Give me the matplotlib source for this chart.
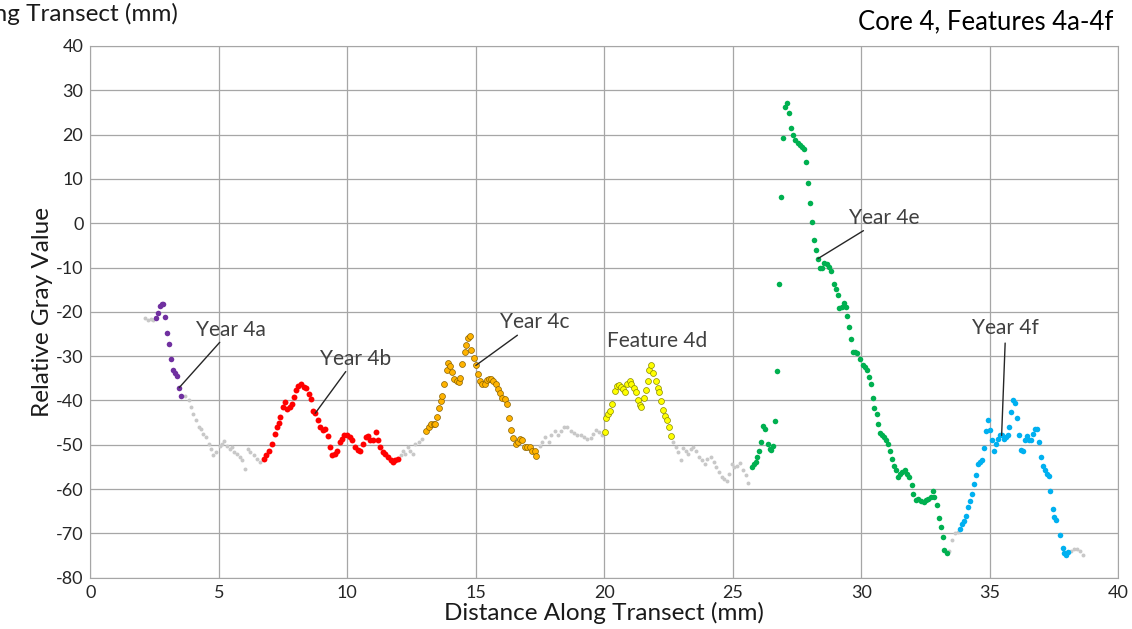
import matplotlib.pyplot as plt

plt.rcParams['font.family'] = ['Lato', 'DejaVu Sans']
plt.rcParams['axes.unicode_minus'] = False

# gray background trace (between the features)
gray_x = [2.14, 2.25, 2.35, 2.45,
          3.69, 3.82, 3.92, 4.01, 4.12, 4.21, 4.31, 4.40, 4.51, 4.60, 4.69, 4.79, 4.90, 5.03,
          5.12, 5.22, 5.31, 5.42, 5.51, 5.60, 5.70, 5.81, 5.90, 6.00, 6.12, 6.22, 6.35, 6.48, 6.61,
          12.07, 12.16, 12.26, 12.35, 12.45, 12.55, 12.65, 12.78, 12.91,
          17.49, 17.58, 17.71, 17.84, 17.94, 18.07, 18.20, 18.32, 18.43, 18.56, 18.69, 18.82,
          18.95, 19.08, 19.21, 19.34, 19.47, 19.57, 19.66, 19.79, 19.92,
          22.69, 22.78, 22.87, 22.97, 23.08, 23.17, 23.26, 23.36, 23.47, 23.57, 23.69, 23.82,
          23.91, 24.01, 24.14, 24.25, 24.34, 24.47, 24.56, 24.66, 24.77, 24.86, 24.95, 25.05,
          25.18, 25.29, 25.38, 25.51, 25.60,
          33.42, 33.53, 33.64, 33.75,
          38.16, 38.27, 38.40, 38.50, 38.62]
gray_y = [-21.4, -21.9, -21.6, -21.8,
          -38.9, -40.0, -41.5, -43.0, -44.4, -46.0, -46.4, -47.5, -48.3, -49.8, -50.9, -52.4, -51.7, -50.2,
          -49.8, -49.2, -50.2, -50.9, -50.5, -51.7, -52.0, -52.8, -53.5, -55.4, -50.9, -51.7, -52.4, -53.2, -53.9,
          -52.4, -51.3, -52.0, -50.5, -51.3, -52.0, -49.8, -49.4, -48.6,
          -50.2, -49.4, -48.3, -49.4, -47.9, -46.9, -47.9, -46.8, -46.0, -45.9, -46.9, -47.4,
          -47.7, -47.9, -48.3, -48.6, -48.4, -47.5, -46.6, -47.1, -47.9,
          -49.4, -50.5, -51.7, -53.5, -50.7, -51.3, -52.0, -50.9, -50.5, -51.3, -52.8, -53.5,
          -54.4, -53.2, -52.8, -53.9, -55.0, -56.2, -57.3, -57.7, -58.1, -56.6, -54.3, -55.0,
          -54.7, -54.1, -55.6, -56.9, -58.7,
          -73.9, -71.5, -70.0, -69.7,
          -73.9, -73.5, -73.5, -73.9, -74.8]

# Year 4a
a_x = [2.55, 2.62, 2.71, 2.77, 2.82, 2.92, 3.00, 3.07, 3.14, 3.21, 3.30, 3.39, 3.46, 3.53]
a_y = [-21.3, -20.2, -18.6, -18.2, -18.3, -21.2, -24.8, -27.2, -30.6, -33.1, -33.8, -34.5, -37.1, -38.9]

# Year 4b
b_x = [6.74, 6.85, 6.96, 7.07, 7.17, 7.26, 7.33, 7.39, 7.49, 7.58, 7.67, 7.75, 7.84, 7.94, 8.01,
       8.10, 8.19, 8.30, 8.40, 8.49, 8.58, 8.66, 8.75, 8.84, 8.95, 9.05, 9.14, 9.23, 9.31, 9.40,
       9.51, 9.60, 9.70, 9.79, 9.88, 9.99, 10.09, 10.20, 10.31, 10.40, 10.51, 10.61, 10.72, 10.81,
       10.90, 11.00, 11.10, 11.18, 11.29, 11.39, 11.48, 11.59, 11.68, 11.77, 11.87, 11.96]
b_y = [-53.2, -52.4, -51.3, -49.8, -47.5, -46.0, -45.1, -43.8, -41.5, -40.4, -41.9, -41.5, -40.8, -39.2, -37.7,
       -36.8, -36.4, -37.0, -37.1, -38.5, -39.6, -42.3, -42.9, -44.5, -46.0, -46.6, -46.4, -48.1, -50.5, -52.4,
       -52.0, -51.3, -49.4, -48.7, -47.9, -47.7, -48.3, -49.0, -50.5, -51.1, -51.4, -49.8, -48.3, -48.1,
       -48.9, -49.0, -47.1, -49.0, -50.5, -51.7, -52.0, -52.8, -53.5, -53.9, -53.5, -53.2]

# Year 4c
c_x = [13.08, 13.17, 13.26, 13.36, 13.43, 13.49, 13.56, 13.65, 13.70, 13.78, 13.86, 13.91, 13.99,
       14.08, 14.17, 14.25, 14.34, 14.40, 14.47, 14.56, 14.62, 14.70, 14.79, 14.83, 14.92, 15.00,
       15.08, 15.16, 15.25, 15.34, 15.42, 15.51, 15.60, 15.68, 15.77, 15.86, 15.94, 16.03, 16.12,
       16.20, 16.29, 16.38, 16.45, 16.55, 16.64, 16.71, 16.81, 16.90, 17.00, 17.10, 17.20, 17.29, 17.36]
c_y = [-46.9, -46.0, -45.3, -45.3, -45.4, -43.8, -41.7, -40.1, -38.9, -36.4, -33.1, -31.6, -32.3,
       -33.6, -35.1, -35.5, -35.9, -34.9, -31.7, -29.1, -27.4, -25.9, -25.5, -28.6, -30.4, -32.1,
       -34.0, -35.5, -36.4, -36.2, -35.3, -35.1, -35.1, -35.6, -36.4, -37.4, -38.3, -39.4, -39.6,
       -40.7, -43.9, -46.6, -48.4, -49.8, -49.4, -48.6, -49.0, -50.5, -50.5, -50.5, -51.3, -51.3, -52.6]

# Feature 4d
d_x = [20.01, 20.05, 20.14, 20.22, 20.31, 20.40, 20.48, 20.57, 20.64, 20.73, 20.81, 20.90, 20.99,
       21.05, 21.16, 21.23, 21.31, 21.39, 21.44, 21.55, 21.61, 21.70, 21.75, 21.83, 21.91, 22.00,
       22.07, 22.14, 22.22, 22.30, 22.36, 22.43, 22.52, 22.61]
d_y = [-47.1, -43.9, -43.0, -42.4, -40.7, -37.9, -36.8, -36.6, -37.0, -37.4, -38.1, -36.4, -35.6,
       -36.4, -37.1, -38.1, -40.0, -41.1, -41.5, -39.4, -37.6, -35.6, -33.2, -32.1, -33.8, -35.6,
       -37.1, -38.1, -40.1, -42.1, -43.6, -44.5, -46.0, -48.1]

# Year 4e
e_x = [25.76, 25.83, 25.89, 25.96, 26.02, 26.11, 26.19, 26.26, 26.35, 26.44, 26.50, 26.57, 26.63,
       26.71, 26.79, 26.87, 26.95, 27.02, 27.10, 27.18, 27.26, 27.34, 27.41, 27.52, 27.60, 27.69,
       27.78, 27.85, 27.93, 28.01, 28.08, 28.17, 28.23, 28.31, 28.39, 28.46, 28.56, 28.66, 28.75,
       28.84, 28.92, 29.01, 29.08, 29.15, 29.23, 29.31, 29.39, 29.46, 29.53, 29.61, 29.67, 29.75,
       29.85, 29.96, 30.05, 30.14, 30.22, 30.28, 30.37, 30.44, 30.50, 30.60, 30.66, 30.74, 30.82,
       30.89, 30.97, 31.05, 31.13, 31.21, 31.28, 31.36, 31.44, 31.52, 31.60, 31.70, 31.77, 31.86,
       31.96, 32.03, 32.12, 32.22, 32.32, 32.42, 32.51, 32.60, 32.71, 32.80, 32.84, 32.93, 33.01,
       33.10, 33.18, 33.23, 33.32]
e_y = [-55.1, -54.3, -53.9, -52.8, -51.3, -49.4, -45.7, -46.4, -49.8, -50.9, -51.1, -50.2, -44.7,
       -33.4, -13.7, 6.0, 19.3, 26.2, 27.1, 24.9, 21.5, 20.0, 18.8, 18.1, 17.6, 17.2,
       16.7, 13.8, 9.1, 4.5, 0.2, -3.7, -6.1, -8.0, -10.1, -10.1, -9.0, -9.2, -9.9,
       -10.8, -13.7, -14.8, -16.1, -19.1, -18.8, -18.0, -18.9, -21.0, -23.5, -26.1, -29.1, -29.1,
       -29.3, -30.6, -32.1, -32.5, -33.2, -34.7, -36.4, -39.4, -41.7, -43.0, -45.3, -47.3, -47.9,
       -48.3, -48.9, -49.8, -51.4, -53.3, -54.7, -55.8, -57.2, -56.6, -56.2, -55.7, -56.6, -57.2,
       -59.0, -61.2, -62.4, -62.2, -62.6, -62.9, -62.4, -62.2, -61.8, -60.5, -61.7, -63.6, -66.5,
       -68.6, -70.9, -73.7, -74.5]

# Year 4f
f_x = [33.85, 33.92, 34.01, 34.09, 34.16, 34.23, 34.31, 34.37, 34.46, 34.54, 34.62, 34.70, 34.77,
       34.85, 34.93, 34.99, 35.07, 35.15, 35.23, 35.31, 35.38, 35.46, 35.54, 35.62, 35.70, 35.76,
       35.83, 35.90, 35.99, 36.06, 36.14, 36.21, 36.29, 36.37, 36.45, 36.54, 36.62, 36.68, 36.76,
       36.84, 36.92, 37.00, 37.07, 37.15, 37.23, 37.29, 37.36, 37.44, 37.51, 37.59, 37.75, 37.83,
       37.90, 37.98, 38.06]
f_y = [-69.0, -67.8, -67.1, -66.1, -64.1, -62.6, -61.2, -58.8, -56.8, -54.3, -54.0, -53.5, -50.8,
       -46.8, -44.5, -46.6, -49.0, -51.3, -49.9, -48.7, -47.7, -47.9, -48.7, -48.3, -47.7, -46.0,
       -42.6, -39.8, -40.5, -44.0, -47.7, -51.1, -51.4, -49.0, -48.0, -49.0, -49.0, -47.5, -46.4,
       -46.4, -49.3, -52.8, -54.9, -55.7, -56.7, -57.1, -60.5, -64.5, -66.2, -66.9, -70.3, -73.3,
       -74.5, -74.8, -74.2]

fig = plt.figure(figsize=(11.32, 6.29), dpi=100)
ax = fig.add_axes([0.0798, 0.0816, 0.9081, 0.8453])

ax.scatter(gray_x, gray_y, s=8, color='#c8c8c8', linewidths=0, zorder=3)
ax.scatter(a_x, a_y, s=16, color='#7030a0', linewidths=0, zorder=3)
ax.scatter(b_x, b_y, s=18, color='#ff0000', linewidths=0, zorder=3)
ax.scatter(c_x, c_y, s=18, color='#ffb300', edgecolors='#8a6200', linewidths=0.5, zorder=3)
ax.scatter(d_x, d_y, s=18, color='#ffff00', edgecolors='#8a8a00', linewidths=0.5, zorder=3)
ax.scatter(e_x, e_y, s=16, color='#00b050', linewidths=0, zorder=3)
ax.scatter(f_x, f_y, s=16, color='#00b0f0', linewidths=0, zorder=3)

ax.set_xlim(0, 40)
ax.set_ylim(-80, 40)
ax.set_xticks(range(0, 41, 5))
ax.set_yticks(range(-80, 41, 10))
ax.grid(True, color='#a6a6a6', linewidth=0.9)
ax.set_axisbelow(True)
for s in ax.spines.values():
    s.set_color('#a6a6a6')
ax.tick_params(length=0, labelsize=13, colors='#262626', pad=5)
ax.set_xlabel('Distance Along Transect (mm)', fontsize=17.5, color='#1a1a1a', labelpad=1)
ax.set_ylabel('Relative Gray Value', fontsize=17.5, color='#1a1a1a', labelpad=2)

# annotations with leader lines
ann_kw = dict(fontsize=15, color='#404040', va='center',
              arrowprops=dict(arrowstyle='-', color='#262626', lw=1, shrinkA=0, shrinkB=0))
ax.annotate('Year 4a', xy=(3.46, -37.1), xytext=(4.12, -24.0), ha='left', **ann_kw)
ax.annotate('Year 4b', xy=(8.75, -42.9), xytext=(8.92, -30.6), ha='left', **ann_kw)
ax.annotate('Year 4c', xy=(15.0, -32.1), xytext=(15.95, -22.4), ha='left', **ann_kw)
ax.annotate('Year 4e', xy=(28.31, -8.0), xytext=(29.52, 1.2), ha='left', **ann_kw)
ax.annotate('Year 4f', xy=(35.46, -47.9), xytext=(35.62, -25.8), ha='center',
            fontsize=15, color='#404040', va='bottom',
            arrowprops=dict(arrowstyle='-', color='#262626', lw=1, shrinkA=2, shrinkB=0))
ax.text(20.1, -26.5, 'Feature 4d', fontsize=15, color='#404040', va='center', ha='left')

fig.text(178 / 1132, 1 - 14 / 629, 'Distance Along Transect (mm)', fontsize=17.5,
         color='#1a1a1a', ha='right', va='center')
fig.text(1113 / 1132, 1 - 22 / 629, 'Core 4, Features 4a-4f', fontsize=18.5,
         color='#000000', ha='right', va='center')

fig.savefig('out.png', dpi=100)
